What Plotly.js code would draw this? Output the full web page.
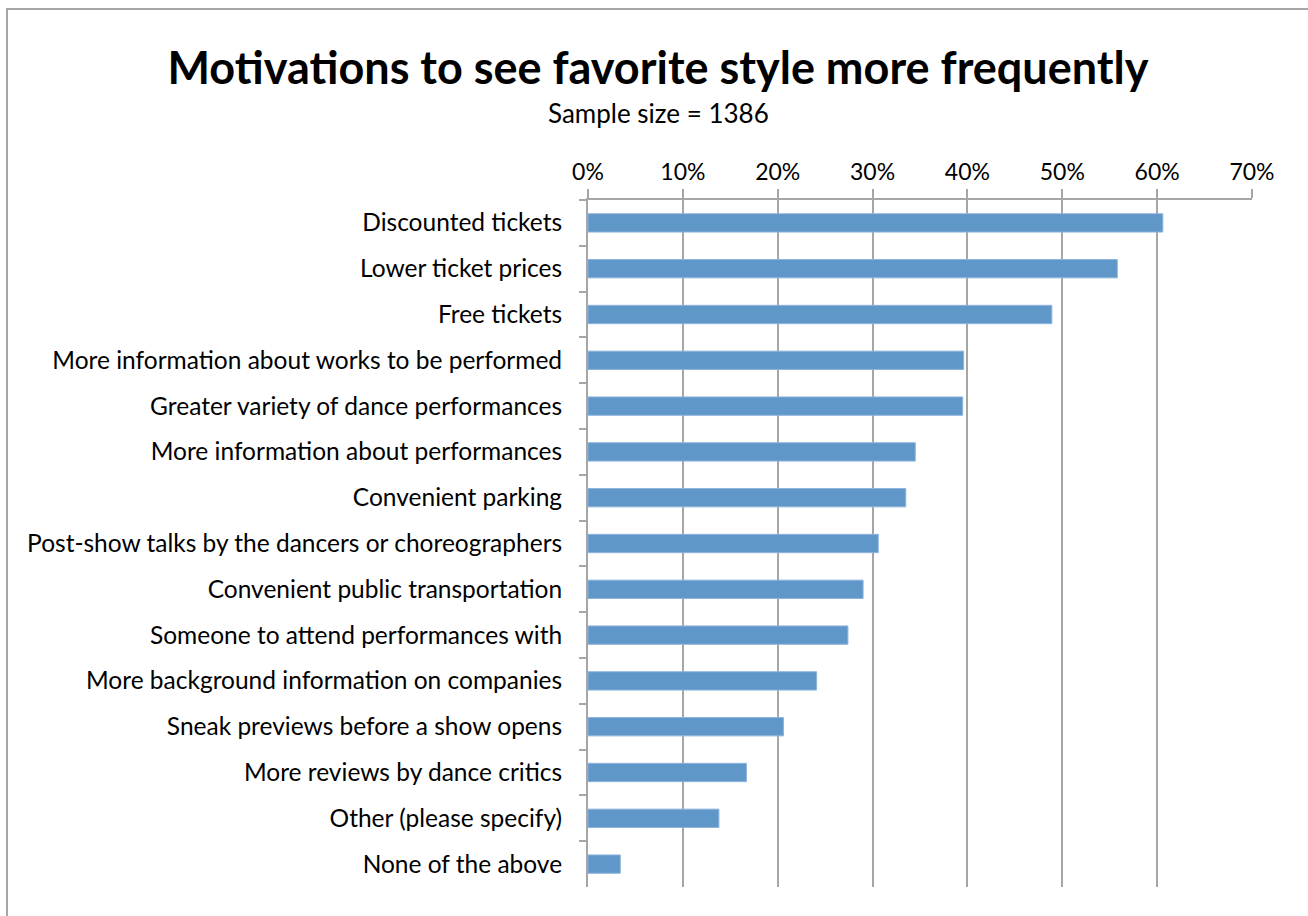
<!DOCTYPE html>
<html>
<head>
<meta charset="utf-8">
<script src="https://cdn.plot.ly/plotly-3.0.1.min.js"></script>
<style>
html,body{margin:0;padding:0;background:#fff;}
#chart{width:1308px;height:916px;}
</style>
</head>
<body>
<div id="chart"></div>
<script>
const categories = [
  "Discounted tickets",
  "Lower ticket prices",
  "Free tickets",
  "More information about works to be performed",
  "Greater variety of dance performances",
  "More information about performances",
  "Convenient parking",
  "Post-show talks by the dancers or choreographers",
  "Convenient public transportation",
  "Someone to attend performances with",
  "More background information on companies",
  "Sneak previews before a show opens",
  "More reviews by dance critics",
  "Other (please specify)",
  "None of the above"
];
const values = [0.606, 0.558, 0.489, 0.396, 0.395, 0.345, 0.335, 0.306, 0.290, 0.274, 0.241, 0.206, 0.167, 0.138, 0.034];
const tickVals = [0, 0.1, 0.2, 0.3, 0.4, 0.5, 0.6, 0.7];
const tickText = ["0%", "10%", "20%", "30%", "40%", "50%", "60%", "70%"];

const FONT = "Lato, 'Open Sans', sans-serif";
const L = 588, R = 56, T = 200, B = 29, W = 1308, H = 916;
const pw = W - L - R, ph = H - T - B;
const px = v => (v - L) / pw;
const py = v => (H - B - v) / ph;

const trace = {
  type: "bar",
  orientation: "h",
  x: values,
  y: categories,
  marker: {color: "#6097C9", line: {color: "#8DB3DC", width: 1}},
  hoverinfo: "x+y"
};

const layout = {
  width: W, height: H,
  margin: {l: L, r: R, t: T, b: B},
  paper_bgcolor: "#fff",
  plot_bgcolor: "#fff",
  showlegend: false,
  bargap: 0.6,
  font: {family: FONT, color: "#000", size: 24},
  title: {
    text: "<b>Motivations to see favorite style more frequently</b>",
    font: {family: FONT, size: 45, color: "#000"},
    x: 658 / W, xanchor: "center",
    y: 1 - 68 / H, yanchor: "middle"
  },
  annotations: [{
    text: "Sample size = 1386",
    xref: "paper", yref: "paper",
    x: px(658), y: py(113),
    xanchor: "center", yanchor: "middle",
    showarrow: false,
    font: {family: FONT, size: 26, color: "#000"}
  }],
  xaxis: {
    side: "top",
    range: [0, 0.7],
    tickvals: tickVals,
    ticktext: tickText,
    showgrid: true,
    gridcolor: "#A6A6A6",
    gridwidth: 2,
    showline: true,
    linecolor: "#A6A6A6",
    linewidth: 2,
    ticks: "outside",
    ticklen: 9,
    tickwidth: 2,
    tickcolor: "#A6A6A6",
    zeroline: false,
    tickfont: {family: FONT, size: 23, color: "#000"},
    fixedrange: true
  },
  yaxis: {
    autorange: "reversed",
    type: "category",
    showline: true,
    linecolor: "#A6A6A6",
    linewidth: 2,
    ticks: "outside",
    tickson: "boundaries",
    ticklen: 7,
    tickwidth: 2,
    tickcolor: "#A6A6A6",
    showgrid: false,
    ticklabelstandoff: 19,
    tickfont: {family: FONT, size: 24.5, color: "#000"},
    fixedrange: true
  },
  shapes: [{
    type: "rect",
    xref: "paper", yref: "paper",
    x0: px(7), x1: px(1320),
    y0: py(930), y1: py(9),
    line: {color: "#A6A6A6", width: 2},
    fillcolor: "rgba(0,0,0,0)",
    layer: "below"
  }]
};

Plotly.newPlot("chart", [trace], layout, {displayModeBar: false, staticPlot: true});
</script>
</body>
</html>
